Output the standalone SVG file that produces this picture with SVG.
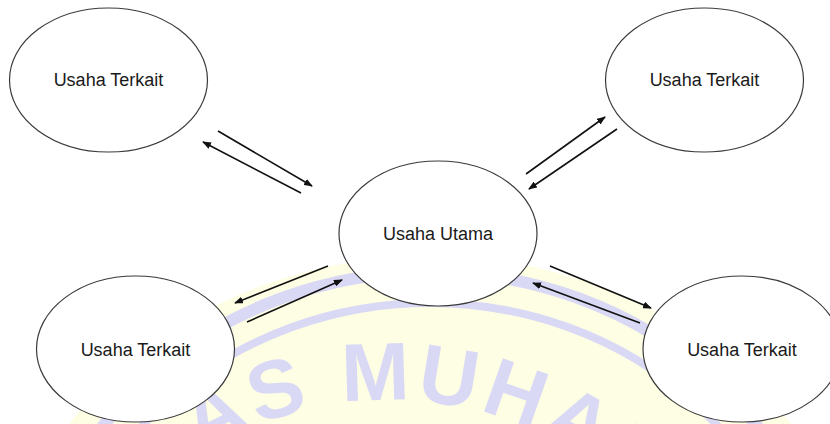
<svg xmlns="http://www.w3.org/2000/svg" width="830" height="424" viewBox="0 0 830 424">
  <style>
    .node ellipse { fill: #ffffff; stroke: #3a3a3a; stroke-width: 1.2; }
    .node text { font-family: "Liberation Sans", Arial, sans-serif; font-size: 18px; fill: #1a1a1a; text-anchor: middle; }
    .link { stroke: #111111; stroke-width: 1.6; fill: none; marker-end: url(#head); }
    .mark-ring { fill: none; stroke: #d9d9f5; }
    .mark-text { font-family: "Liberation Sans", Arial, sans-serif; font-weight: bold; font-size: 82px; letter-spacing: 5px; fill: #d9d9f5; }
  </style>
  <defs>
    <marker id="head" markerUnits="userSpaceOnUse" markerWidth="9" markerHeight="7" refX="8" refY="3.5" orient="auto">
      <path d="M0,0 L9,3.5 L0,7 z" fill="#111111"/>
    </marker>
    <path id="markArc" d="M51.7,636.9 A360,360 0 0 1 728.3,636.9"/>
  </defs>

  <rect width="830" height="424" fill="#ffffff"/>

  <!-- faint emblem in the background -->
  <g id="emblem">
    <ellipse cx="430" cy="648" rx="440" ry="392" fill="#fefee4"/>
    <ellipse class="mark-ring" cx="430" cy="648" rx="405" ry="376" stroke-width="12"/>
    <ellipse class="mark-ring" cx="430" cy="648" rx="376" ry="345" stroke-width="8"/>
    <text class="mark-text"><textPath href="#markArc" startOffset="240">AS MUHAM</textPath></text>
  </g>

  <!-- connectors -->
  <g id="connectors">
    <line class="link" x1="218" y1="131" x2="312" y2="186"/>
    <line class="link" x1="301" y1="193" x2="203" y2="142"/>
    <line class="link" x1="526" y1="174" x2="605" y2="117"/>
    <line class="link" x1="617" y1="129" x2="529" y2="189"/>
    <line class="link" x1="328" y1="266" x2="235" y2="303"/>
    <line class="link" x1="247" y1="322" x2="342" y2="280"/>
    <line class="link" x1="550" y1="266" x2="651" y2="308"/>
    <line class="link" x1="640" y1="323" x2="533" y2="283"/>
  </g>

  <g id="node-top-left" class="node">
    <ellipse cx="108.5" cy="80" rx="99" ry="72"/>
    <text x="108.5" y="86">Usaha Terkait</text>
  </g>
  <g id="node-top-right" class="node">
    <ellipse cx="704.5" cy="80" rx="99" ry="72"/>
    <text x="704.5" y="86">Usaha Terkait</text>
  </g>
  <g id="node-center" class="node">
    <ellipse cx="438" cy="233.5" rx="99" ry="72.5"/>
    <text x="438" y="240">Usaha Utama</text>
  </g>
  <g id="node-bottom-left" class="node">
    <ellipse cx="135.5" cy="349" rx="99" ry="73"/>
    <text x="135.5" y="356">Usaha Terkait</text>
  </g>
  <g id="node-bottom-right" class="node">
    <ellipse cx="742" cy="349" rx="99" ry="73"/>
    <text x="742" y="356">Usaha Terkait</text>
  </g>
</svg>
